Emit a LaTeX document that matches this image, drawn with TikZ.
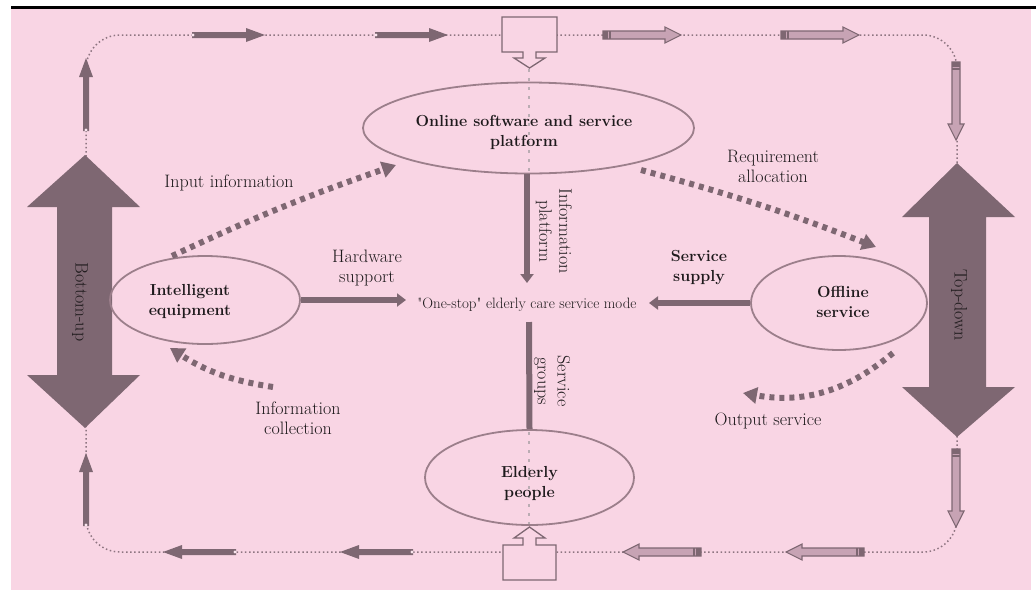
\documentclass[tikz,border=0pt]{standalone}
\usepackage{fontspec}
\usetikzlibrary{arrows.meta,shapes.geometric}
\definecolor{bgpink}{HTML}{F9D5E4}
\definecolor{dm}{HTML}{7E6772}
\definecolor{lm}{HTML}{C7A3B4}
\definecolor{ell}{HTML}{9C7F8B}
\definecolor{dotc}{HTML}{8E7581}
\definecolor{txt}{HTML}{1E1A1C}
\tikzset{
  ellnode/.style={ellipse, draw=ell, line width=1.8pt, inner sep=0pt},
  lbl/.style={font=\fontsize{18}{20}\selectfont, text=txt, align=center, inner sep=0pt},
  blbl/.style={font=\fontsize{16}{20}\selectfont\bfseries, text=txt, align=center, inner sep=0pt},
  thindot/.style={draw=dotc, line width=1.5pt, dash pattern=on 1.5pt off 2.6pt},
  sqdot/.style={draw=dm, line width=6pt, dash pattern=on 5pt off 5pt, -{Triangle[length=14pt,width=16pt,sep=0pt]}},
  solidarr/.style={draw=dm, line width=6pt, -{Triangle[length=9pt,width=13pt]}},
  pics/sarrow/.style={code={
    \fill[dm] (0,-3) -- (-54,-3) -- (-54,3) -- (0,3) -- (0,7) -- (19,0) -- (0,-7) -- cycle;
    \fill[bgpink!60] (-53,0) circle (1.6pt);}},
  pics/harrow/.style={code={
    \draw[fill=lm, draw=dm, line width=1.1pt] (0,-4) -- (-62,-4) -- (-62,4) -- (0,4) -- (0,8) -- (16,0) -- (0,-8) -- cycle;
    \draw[dm, line width=1.1pt] (-58,-4) -- (-58,4) (-55,-4) -- (-55,4);
    \fill[dm] (-62,-4) rectangle (-59,4);}},
}
\begin{document}
\begin{tikzpicture}[x=1pt,y=-1pt]
\useasboundingbox (0,0) rectangle (1036,590);
\fill[white] (0,0) rectangle (1036,590);
\fill[bgpink] (11,8) rectangle (1031,590);
\draw[black, line width=3pt] (11,7.5) -- (1036,7.5);

% outer dotted loop
\draw[thindot, rounded corners=34pt] (86,35) rectangle (957,552);

% big double arrows
\fill[dm] (85,155) -- (140,207) -- (112,207) -- (112,375) -- (140,375) -- (85,428)
  -- (27,375) -- (57,375) -- (57,207) -- (27,207) -- cycle;
\fill[dm] (957,163) -- (1015,217) -- (986,217) -- (986,387) -- (1015,387) -- (957,437)
  -- (902,387) -- (929,387) -- (929,217) -- (902,217) -- cycle;
\node[lbl, rotate=-90] (bu) at (80,302) {Bottom-up};
\node[lbl, rotate=-90] (td) at (959,305) {Top-down};

% solid loop arrows
\pic at (246,35) {sarrow};
\pic at (429,35) {sarrow};
\pic[rotate=90] at (86,77) {sarrow};
\pic[rotate=180] at (182,552) {sarrow};
\pic[rotate=180] at (359,552) {sarrow};
\pic[rotate=90] at (86,472) {sarrow};

% hollow loop arrows
\pic at (665,35) {harrow};
\pic at (843,35) {harrow};
\pic[rotate=-90] at (956,124) {harrow};
\pic[rotate=-90] at (956,511) {harrow};
\pic[rotate=180] at (639,552) {harrow};
\pic[rotate=180] at (802,552) {harrow};

% boxes with hollow arrows
\draw[fill=bgpink, draw=dm, line width=1.3pt] (502,17) -- (557,17) -- (557,52) -- (536,52) -- (536,58)
  -- (545,58) -- (529.5,68) -- (514,58) -- (523,58) -- (523,52) -- (502,52) -- cycle;
\draw[fill=bgpink, draw=dm, line width=1.3pt] (503,580) -- (556,580) -- (556,545) -- (536,545) -- (536,538)
  -- (545,538) -- (529.5,527) -- (514,538) -- (523,538) -- (523,545) -- (503,545) -- cycle;

% faint dotted centre lines through top/bottom ellipses
\draw[draw=dotc!60, line width=1.3pt, dash pattern=on 3pt off 6pt] (529,69) -- (529,172);
\draw[draw=dotc!60, line width=1.3pt, dash pattern=on 3pt off 6pt] (529,432) -- (529,526);

% ellipses
\node[ellnode, minimum width=331pt, minimum height=91pt] (online) at (528.5,128) {};
\node[blbl] at (524,132) {Online software and service\\platform};
\node[ellnode, minimum width=190pt, minimum height=88pt] (intel) at (205,300) {};
\node[blbl] at (190,301) {Intelligent\\equipment};
\node[ellnode, minimum width=176pt, minimum height=94pt] (offline) at (839,303) {};
\node[blbl] at (843,302) {Offline\\service};
\node[ellnode, minimum width=209pt, minimum height=95pt] (elder) at (529.5,477.5) {};
\node[blbl] at (529.5,483) {Elderly\\people};

% centre
\node[font=\fontsize{15}{17}\selectfont, text=txt, inner sep=1pt] (mode) at (527,305) {\textquotedbl One-stop\textquotedbl{} elderly care service mode};

% solid connectors
\draw[solidarr] (online.south -| 527,0) -- (527,283);
\draw[dm, line width=6pt] (529,322) -- (elder.north);
\draw[solidarr] (intel.east) -- (406,300);
\draw[solidarr] (offline.west) -- (649,303);

% labels on connectors
\node[lbl, rotate=-90] at (554,231) {Information\\platform};
\node[lbl, rotate=-90] at (552,381) {Service\\groups};
\node[lbl] at (367,268) {Hardware\\support};
\node[blbl] at (699,268) {Service\\supply};

% dotted square arrows
\draw[sqdot] (172,256) to[bend left=3] (396,165);
\draw[sqdot] (641,170) to[bend left=3] (876,247);
\draw[sqdot] (893,353) to[bend left=25] (743,393);
\draw[sqdot] (273,387) to[bend left=12] (170,348);

\node[lbl] at (229,183) {Input information};
\node[lbl] at (773,166) {Requirement\\allocation};
\node[lbl] at (298,418) {Information\\collection};
\node[lbl] at (768,421) {Output service};
\end{tikzpicture}
\end{document}
